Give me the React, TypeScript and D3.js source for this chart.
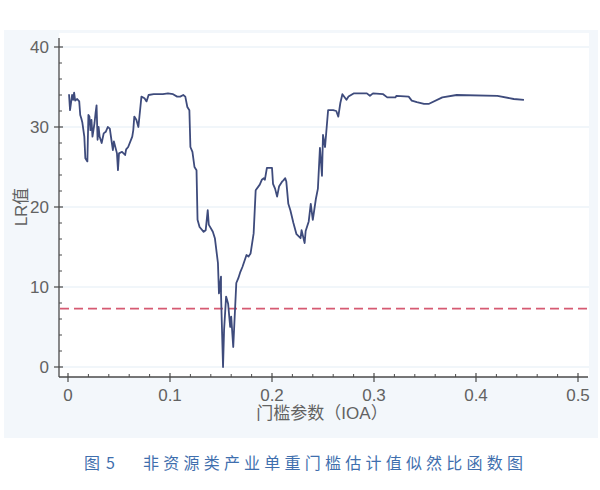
import React, { useEffect, useRef } from 'react';
import * as d3 from 'd3';

// threshold parameter (IOA) and LR statistic
const ioa = [
  0.001, 0.002, 0.004, 0.005, 0.006, 0.007, 0.009, 0.011, 0.012, 0.013,
  0.014, 0.016, 0.017, 0.019, 0.020, 0.021, 0.022, 0.023, 0.024, 0.026,
  0.027, 0.028, 0.029, 0.030, 0.031, 0.033, 0.035, 0.037, 0.039, 0.041,
  0.043, 0.044, 0.045, 0.048, 0.049, 0.050, 0.053, 0.056, 0.057, 0.059,
  0.063, 0.064, 0.065, 0.067, 0.069, 0.072, 0.075, 0.077, 0.079, 0.084,
  0.093, 0.098, 0.103, 0.107, 0.110, 0.113, 0.115, 0.117, 0.119, 0.120,
  0.122, 0.124, 0.126, 0.127, 0.129, 0.133, 0.135, 0.137, 0.138, 0.142,
  0.144, 0.147, 0.148, 0.150, 0.150, 0.152, 0.153, 0.155, 0.157, 0.159,
  0.160, 0.162, 0.165, 0.167, 0.169, 0.171, 0.175, 0.177, 0.179, 0.182,
  0.184, 0.188, 0.190, 0.192, 0.193, 0.195, 0.200, 0.201, 0.203, 0.205,
  0.207, 0.210, 0.211, 0.213, 0.214, 0.216, 0.218, 0.221, 0.224, 0.228,
  0.229, 0.232, 0.233, 0.236, 0.238, 0.240, 0.243, 0.245, 0.247, 0.249,
  0.250, 0.252, 0.255, 0.260, 0.263, 0.265, 0.267, 0.269, 0.273, 0.275,
  0.280, 0.293, 0.296, 0.299, 0.309, 0.313, 0.321, 0.322, 0.334, 0.337,
  0.342, 0.349, 0.354, 0.367, 0.381, 0.421, 0.437, 0.447,
];
const lr = [
  34.1, 32.1, 34.0, 33.4, 34.3, 33.3, 33.5, 33.2, 31.5, 31.1,
  30.6, 28.8, 26.1, 25.7, 31.5, 31.3, 29.6, 30.9, 28.8, 30.5,
  31.7, 32.7, 28.4, 30.0, 28.8, 28.0, 29.2, 29.4, 30.0, 29.8,
  28.0, 27.1, 28.2, 26.7, 24.6, 26.7, 26.9, 26.5, 27.2, 27.5,
  28.8, 29.6, 31.3, 30.9, 30.0, 33.8, 33.6, 33.2, 34.0, 34.1,
  34.1, 34.2, 34.1, 33.8, 33.8, 34.0, 33.8, 32.5, 32.1, 27.5,
  26.9, 25.0, 24.6, 18.4, 17.5, 16.9, 17.1, 19.6, 17.8, 16.9,
  16.1, 13.0, 9.2, 11.3, 9.2, 0.0, 4.6, 8.8, 7.9, 5.0,
  6.3, 2.5, 10.5, 11.1, 11.9, 12.5, 14.0, 13.8, 14.2, 16.7,
  22.1, 22.8, 23.4, 23.6, 23.4, 24.9, 24.9, 22.9, 22.3, 21.3,
  22.6, 23.2, 23.3, 23.6, 23.2, 20.4, 19.6, 18.0, 16.6, 16.1,
  17.1, 15.5, 17.0, 18.2, 20.4, 18.4, 21.0, 22.3, 27.4, 23.9,
  29.0, 27.5, 32.1, 32.1, 32.0, 31.3, 33.0, 34.1, 33.4, 33.8,
  34.2, 34.2, 33.9, 34.2, 34.1, 33.7, 33.7, 33.9, 33.8, 33.3,
  33.1, 32.9, 32.9, 33.7, 34.0, 33.9, 33.5, 33.4,
];
const criticalValue = 7.3;
const xTicks = [0, 0.1, 0.2, 0.3, 0.4, 0.5];
const yTicks = [0, 10, 20, 30, 40];

const App: React.FC = () => {
  const ref = useRef<SVGSVGElement | null>(null);

  useEffect(() => {
    if (!ref.current) return;
    const width = 600;
    const height = 490;
    const svg = d3.select(ref.current);
    svg.selectAll('*').remove();
    svg.attr('width', width).attr('height', height);

    const font = 'Helvetica, Arial, "Liberation Sans", "Noto Sans CJK SC", sans-serif';
    const axisColor = '#4a4a4a';
    const textColor = '#626262';

    const x = d3.scaleLinear().domain([0, 0.5]).range([68, 578]);
    const y = d3.scaleLinear().domain([0, 40]).range([367, 47]);
    const axisLeftX = 59;
    const axisBottomY = 377;

    // outer pale panel and white plotting area
    svg.append('rect')
      .attr('x', 4).attr('y', 30).attr('width', 594).attr('height', 408)
      .attr('fill', '#f3f7fb');
    svg.append('rect')
      .attr('x', axisLeftX).attr('y', 33).attr('width', 530).attr('height', axisBottomY - 33)
      .attr('fill', '#ffffff');

    // gridlines
    svg.append('g')
      .selectAll('line')
      .data(yTicks)
      .enter()
      .append('line')
      .attr('x1', axisLeftX)
      .attr('x2', 589)
      .attr('y1', d => y(d))
      .attr('y2', d => y(d))
      .attr('stroke', '#e4edf5')
      .attr('stroke-width', 1.2);

    // critical value
    svg.append('line')
      .attr('x1', axisLeftX + 1)
      .attr('x2', 589)
      .attr('y1', y(criticalValue))
      .attr('y2', y(criticalValue))
      .attr('stroke', '#d65a72')
      .attr('stroke-width', 1.6)
      .attr('stroke-dasharray', '9,5');

    // LR curve
    const line = d3.line<number>()
      .x((_, i) => x(ioa[i]))
      .y(d => y(d));
    svg.append('path')
      .datum(lr)
      .attr('d', line)
      .attr('fill', 'none')
      .attr('stroke', '#3e4b7c')
      .attr('stroke-width', 1.8)
      .attr('stroke-linejoin', 'round');

    // y axis
    const yAxis = svg.append('g');
    yAxis.append('line')
      .attr('x1', axisLeftX).attr('x2', axisLeftX)
      .attr('y1', 38).attr('y2', axisBottomY)
      .attr('stroke', axisColor).attr('stroke-width', 1.3);
    yAxis.selectAll('line.minor')
      .data(d3.range(0, 41, 2).filter(v => v % 10 !== 0))
      .enter()
      .append('line')
      .attr('class', 'minor')
      .attr('x1', axisLeftX).attr('x2', axisLeftX + 3)
      .attr('y1', d => y(d)).attr('y2', d => y(d))
      .attr('stroke', axisColor);
    yAxis.selectAll('line.major')
      .data(yTicks)
      .enter()
      .append('line')
      .attr('class', 'major')
      .attr('x1', axisLeftX - 5).attr('x2', axisLeftX + 4)
      .attr('y1', d => y(d)).attr('y2', d => y(d))
      .attr('stroke', axisColor).attr('stroke-width', 1.2);
    yAxis.selectAll('text')
      .data(yTicks)
      .enter()
      .append('text')
      .attr('x', axisLeftX - 10)
      .attr('y', d => y(d))
      .attr('dy', '0.35em')
      .attr('text-anchor', 'end')
      .attr('font-family', font)
      .attr('font-size', 17)
      .attr('fill', textColor)
      .text(d => d);

    // x axis
    const xAxis = svg.append('g');
    xAxis.append('line')
      .attr('x1', axisLeftX).attr('x2', 588)
      .attr('y1', axisBottomY).attr('y2', axisBottomY)
      .attr('stroke', axisColor).attr('stroke-width', 1.3);
    xAxis.selectAll('line.minor')
      .data(d3.range(0, 51, 2).filter(v => v % 10 !== 0).map(v => v / 100))
      .enter()
      .append('line')
      .attr('class', 'minor')
      .attr('x1', d => x(d)).attr('x2', d => x(d))
      .attr('y1', axisBottomY - 3).attr('y2', axisBottomY)
      .attr('stroke', axisColor);
    xAxis.selectAll('line.major')
      .data(xTicks)
      .enter()
      .append('line')
      .attr('class', 'major')
      .attr('x1', d => x(d)).attr('x2', d => x(d))
      .attr('y1', axisBottomY - 4).attr('y2', axisBottomY + 5)
      .attr('stroke', axisColor).attr('stroke-width', 1.2);
    xAxis.selectAll('text')
      .data(xTicks)
      .enter()
      .append('text')
      .attr('x', d => x(d))
      .attr('y', 401)
      .attr('text-anchor', 'middle')
      .attr('font-family', font)
      .attr('font-size', 17)
      .attr('fill', textColor)
      .text(d => d3.format('~g')(d));

    // axis titles
    svg.append('text')
      .attr('x', 322)
      .attr('y', 419)
      .attr('text-anchor', 'middle')
      .attr('font-family', font)
      .attr('font-size', 17)
      .attr('fill', textColor)
      .text('门槛参数（IOA）');
    svg.append('text')
      .attr('transform', 'translate(27,207) rotate(-90)')
      .attr('text-anchor', 'middle')
      .attr('font-family', font)
      .attr('font-size', 17)
      .attr('fill', textColor)
      .text('LR值');

    // caption
    const caption = svg.append('g')
      .attr('font-family', '"Noto Sans CJK SC", sans-serif')
      .attr('font-size', 16)
      .attr('fill', '#3f6fae');
    caption.append('text')
      .attr('x', 84)
      .attr('y', 469)
      .text('图');
    caption.append('text')
      .attr('x', 106)
      .attr('y', 469)
      .text('5');
    caption.append('text')
      .attr('x', 143)
      .attr('y', 469)
      .attr('textLength', 380)
      .attr('lengthAdjust', 'spacing')
      .text('非资源类产业单重门槛估计值似然比函数图');
  }, []);

  return (
    <svg
      ref={ref}
      style={{ position: 'absolute', left: 0, top: 0, display: 'block' }}
    />
  );
};

export default App;
